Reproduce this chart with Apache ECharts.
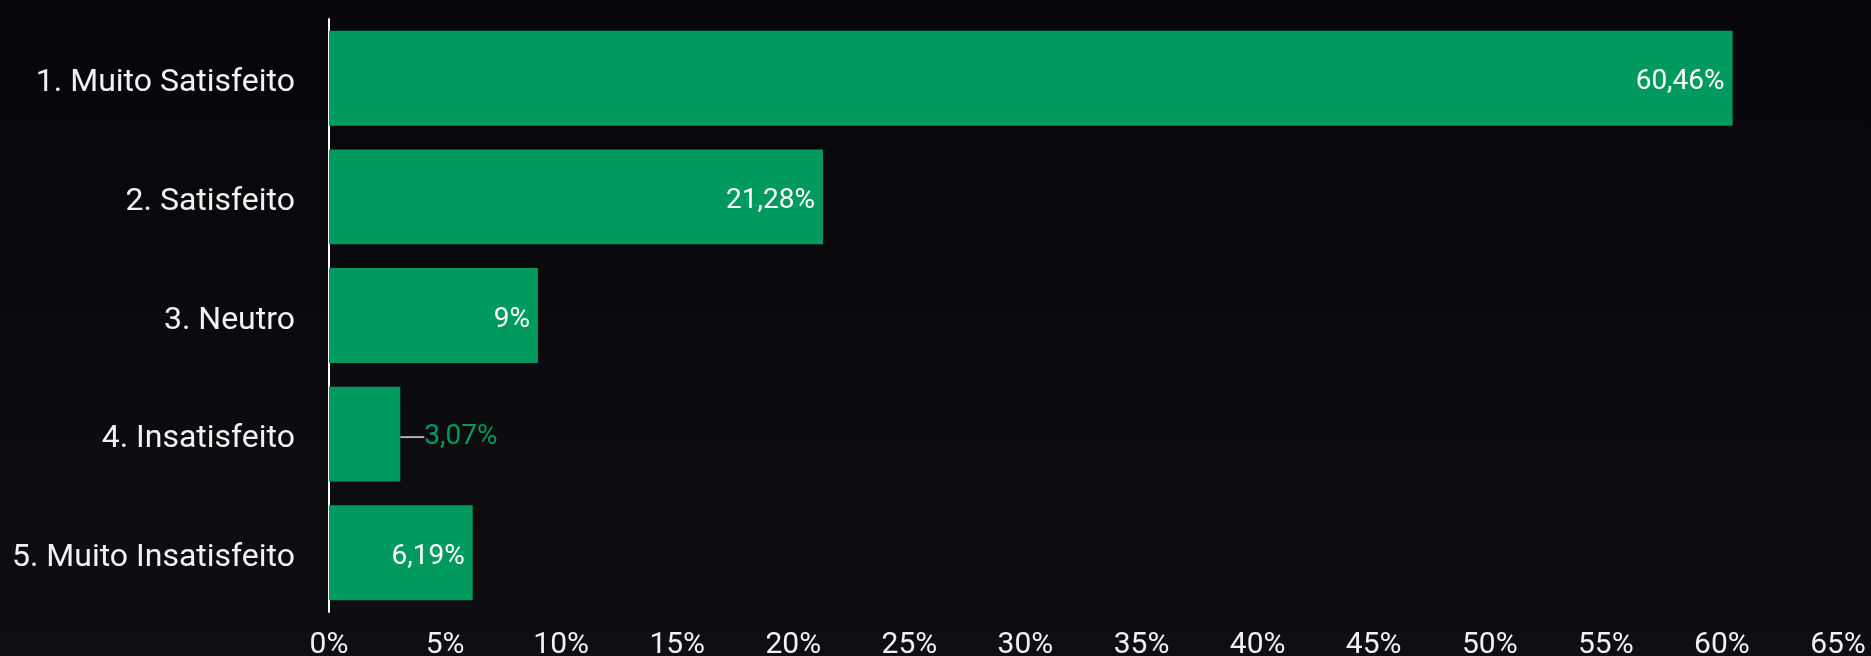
<!DOCTYPE html>
<html>
<head>
<meta charset="utf-8">
<script src="https://cdn.jsdelivr.net/npm/echarts@6/dist/echarts.min.js"></script>
<style>
  html, body { margin: 0; padding: 0; background: #09090d; }
  #chart { width: 1871px; height: 656px; }
</style>
</head>
<body>
<div id="chart"></div>
<script>
var categories = ['1. Muito Satisfeito', '2. Satisfeito', '3. Neutro', '4. Insatisfeito', '5. Muito Insatisfeito']
var values = [60.46, 21.28, 9, 3.07, 6.19]
var tickMax = 65
var tickStep = 5

var green = '#009a5e'
var outsideIndex = 3  // bar too short, label goes outside

function fmt(v) {
  return String(v).replace('.', ',') + '%'
}

var myChart = echarts.init(document.getElementById('chart'))

var option = {
  backgroundColor: new echarts.graphic.LinearGradient(0, 0, 0, 1, [
    { offset: 0, color: '#06060a' },
    { offset: 1, color: '#0e0e13' }
  ]),
  textStyle: { fontFamily: 'Roboto' },
  grid: {
    left: 329,
    right: 33,
    top: 19,
    bottom: 44,
    containLabel: false,
    outerBoundsMode: 'none'
  },
  xAxis: {
    type: 'value',
    min: 0,
    max: tickMax,
    interval: tickStep,
    axisLine: { show: false },
    axisTick: { show: false },
    splitLine: { show: false },
    axisLabel: {
      color: '#f2f2f2',
      fontSize: 30,
      margin: 18,
      formatter: function (v) { return v + '%' }
    }
  },
  yAxis: {
    type: 'category',
    inverse: true,
    data: categories,
    axisLine: { show: true, lineStyle: { color: '#ffffff', width: 2 } },
    axisTick: { show: false },
    axisLabel: {
      color: '#f2f2f2',
      fontSize: 32,
      margin: 34,
      formatter: function (v) { return '{c|' + v + '}' },
      rich: {
        c: { color: '#f2f2f2', fontSize: 32, fontFamily: 'Roboto', padding: [10, 0, 0, 0] }
      }
    }
  },
  series: [
    {
      type: 'bar',
      barWidth: '80%',
      itemStyle: { color: green },
      label: {
        show: true,
        position: 'insideRight',
        distance: 8,
        color: '#ffffff',
        fontSize: 28,
        formatter: function (p) {
          var key = p.dataIndex === outsideIndex ? 'g' : 'w'
          return '{' + key + '|' + fmt(p.value) + '}'
        },
        rich: {
          w: { color: '#ffffff', fontSize: 28, fontFamily: 'Roboto', padding: [8, 0, 0, 0] },
          g: { color: green, fontSize: 28, fontFamily: 'Roboto', padding: [6, 0, 0, 0] }
        }
      },
      labelLine: {
        show: true,
        lineStyle: { color: '#b0b0b0', width: 2 }
      },
      labelLayout: function (p) {
        if (p.dataIndex === outsideIndex) {
          return {
            x: p.rect.x + p.rect.width + 24,
            y: p.rect.y + p.rect.height / 2,
            align: 'left',
            verticalAlign: 'middle'
          }
        }
      },
      data: values.map(function (v, i) {
        if (i === outsideIndex) {
          return {
            value: v,
            label: { position: 'right', distance: 0 }
          }
        }
        return v
      })
    }
  ]
}

myChart.setOption(option)
</script>
</body>
</html>
